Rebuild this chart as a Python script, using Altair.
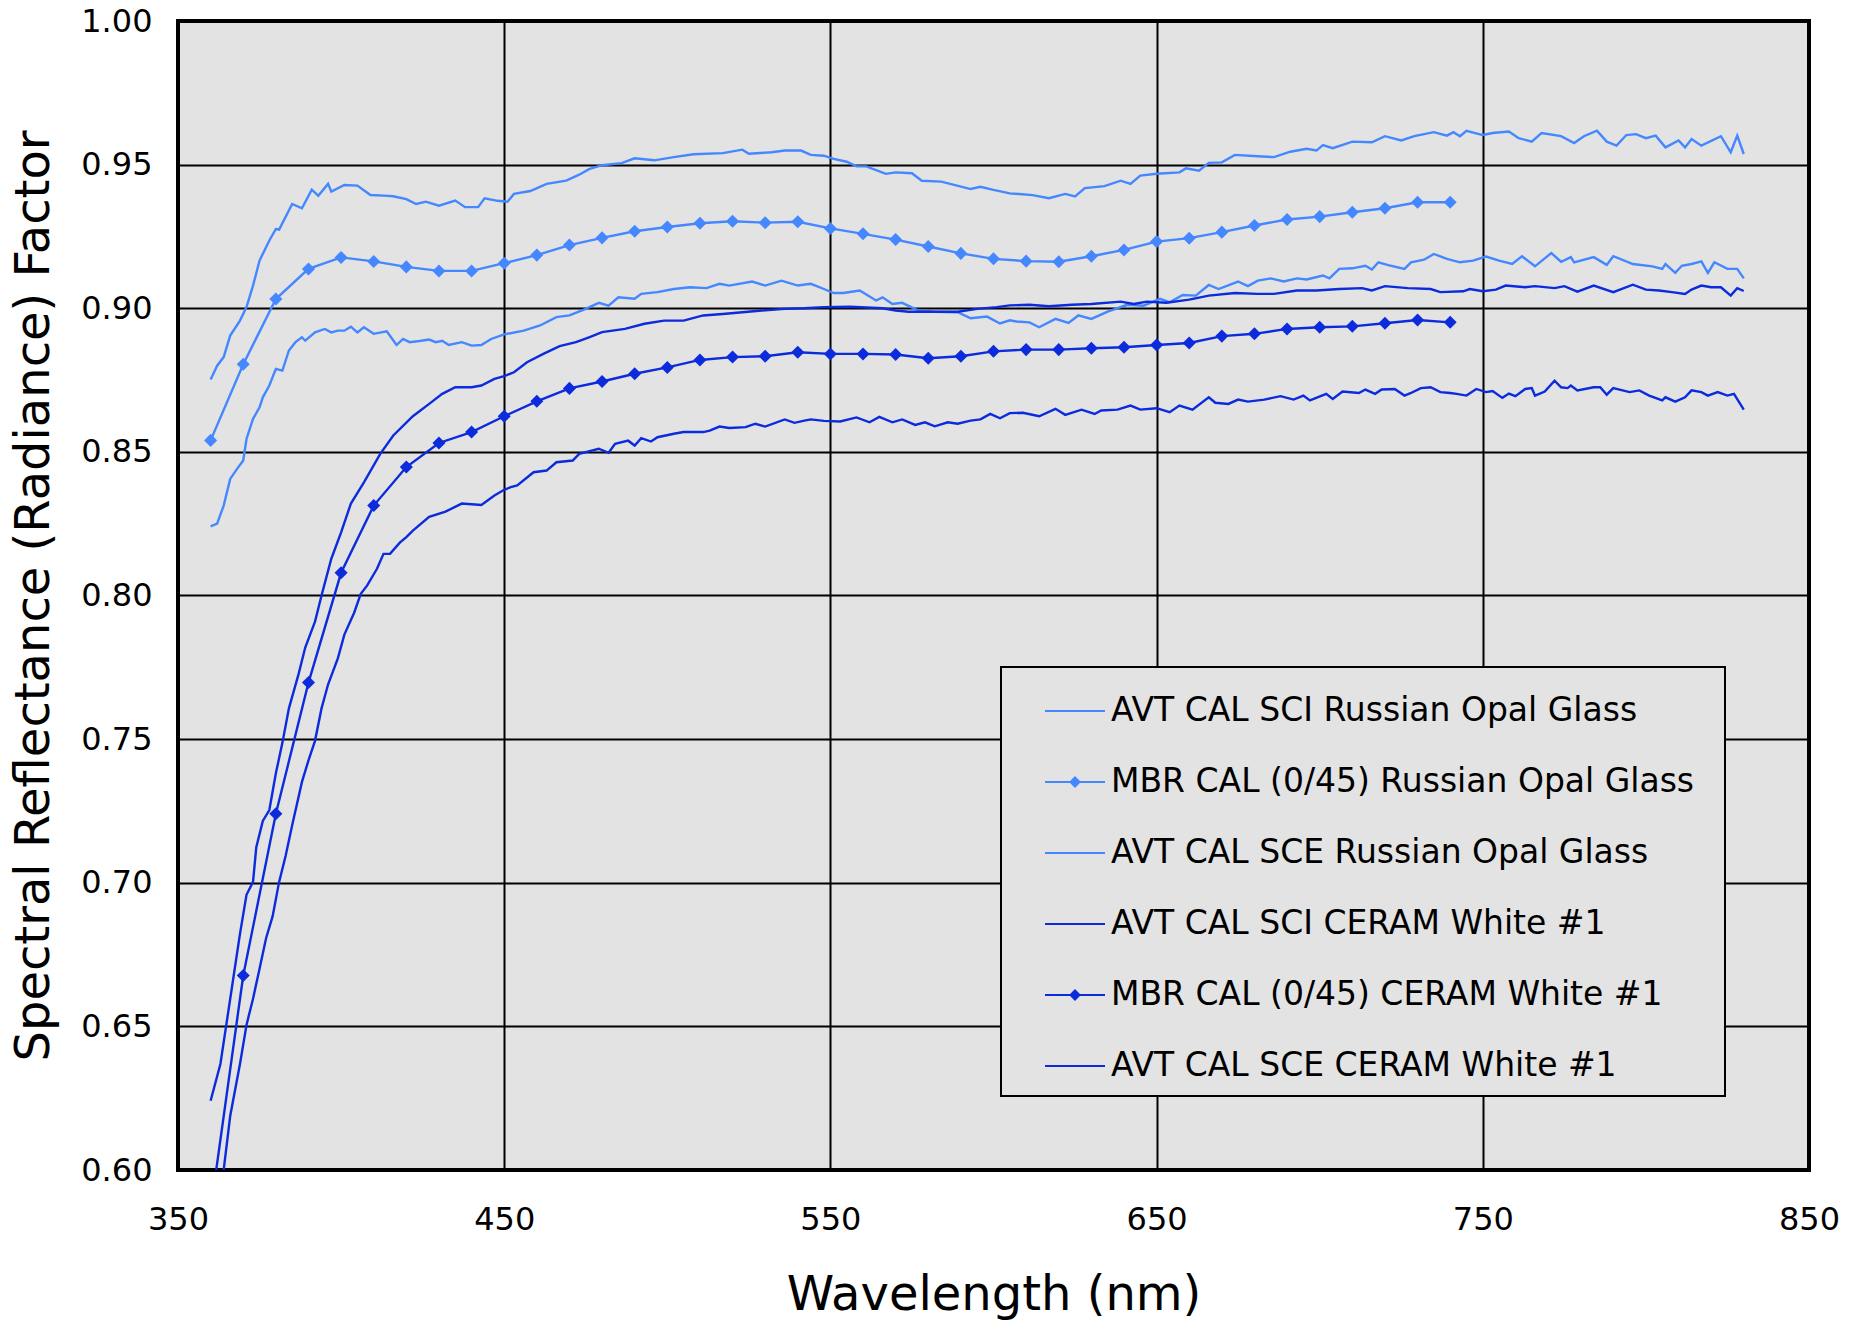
import altair as alt
import pandas as pd

# ---- series names (legend order) ----
SERIES = [
    "AVT CAL SCI Russian Opal Glass",
    "MBR CAL (0/45) Russian Opal Glass",
    "AVT CAL SCE Russian Opal Glass",
    "AVT CAL SCI CERAM White #1",
    "MBR CAL (0/45) CERAM White #1",
    "AVT CAL SCE CERAM White #1",
]
LIGHT = "#4487FF"
DARK = "#0B2BDD"
COLORS = [LIGHT, LIGHT, LIGHT, DARK, DARK, DARK]

# ---- AVT CAL SCI, Russian opal glass ----
opal_sci_wl = [360, 362, 364, 366, 369, 371, 373, 375, 378, 380, 381, 385, 388, 391, 393, 396, 397,
               401, 405, 409, 413, 416, 420, 423, 426, 430, 435, 438, 442, 444, 448, 451, 453, 458,
               463, 469, 473, 476, 480, 486, 490, 496, 502, 508, 517, 523, 525, 532, 536, 541, 544,
               548, 551, 555, 558, 561, 567, 570, 575, 578, 584, 593, 596, 600, 605, 612, 617, 622,
               625, 628, 634, 639, 642, 645, 650, 657, 659, 663, 666, 670, 674, 681, 686, 691, 696,
               699, 701, 704, 710, 716, 720, 725, 729, 735, 739, 741, 743, 745, 750, 753, 758, 761,
               765, 768, 774, 778, 781, 785, 788, 791, 794, 797, 800, 803, 806, 810, 812, 814, 817,
               823, 826, 828, 830]
opal_sci_r = [0.8752, 0.8800, 0.8830, 0.8905, 0.8957, 0.9004, 0.9079, 0.9166, 0.9236, 0.9276, 0.9274,
              0.9363, 0.9348, 0.9413, 0.9392, 0.9433, 0.9406, 0.9429, 0.9427, 0.9394, 0.9392, 0.9390,
              0.9380, 0.9363, 0.9371, 0.9357, 0.9375, 0.9352, 0.9352, 0.9383, 0.9374, 0.9371, 0.9398,
              0.9408, 0.9433, 0.9444, 0.9465, 0.9484, 0.9498, 0.9505, 0.9522, 0.9515, 0.9526, 0.9536,
              0.9540, 0.9552, 0.9538, 0.9543, 0.9549, 0.9549, 0.9534, 0.9531, 0.9520, 0.9510, 0.9494,
              0.9494, 0.9468, 0.9473, 0.9470, 0.9444, 0.9441, 0.9415, 0.9423, 0.9412, 0.9400, 0.9394,
              0.9383, 0.9398, 0.9389, 0.9418, 0.9425, 0.9444, 0.9433, 0.9462, 0.9468, 0.9473, 0.9487,
              0.9479, 0.9506, 0.9508, 0.9534, 0.9529, 0.9526, 0.9545, 0.9555, 0.9549, 0.9568, 0.9557,
              0.9580, 0.9578, 0.9599, 0.9584, 0.9599, 0.9613, 0.9601, 0.9613, 0.9599, 0.9618, 0.9603,
              0.9610, 0.9615, 0.9592, 0.9580, 0.9610, 0.9599, 0.9575, 0.9599, 0.9618, 0.9580, 0.9566,
              0.9603, 0.9606, 0.9592, 0.9601, 0.9560, 0.9584, 0.9560, 0.9589, 0.9566, 0.9599, 0.9543,
              0.9601, 0.9537]

# ---- AVT CAL SCE, Russian opal glass ----
opal_sce_wl = [360, 362, 364, 366, 368, 370, 371, 373, 375, 376, 378, 380, 382, 384, 386, 388, 389,
               392, 395, 397, 399, 401, 403, 405, 407, 410, 414, 417, 419, 421, 424, 427, 429, 431,
               433, 437, 440, 443, 446, 450, 456, 461, 466, 470, 475, 479, 482, 485, 490, 492, 497,
               502, 507, 512, 516, 519, 526, 530, 535, 540, 544, 548, 551, 554, 559, 564, 566, 569,
               572, 577, 582, 589, 593, 598, 602, 605, 607, 611, 614, 619, 623, 626, 630, 635, 641,
               646, 651, 654, 658, 662, 666, 669, 675, 678, 681, 685, 689, 693, 696, 701, 703, 706,
               710, 714, 716, 718, 721, 726, 728, 732, 735, 739, 743, 747, 751, 755, 759, 762, 766,
               771, 774, 777, 778, 784, 788, 790, 796, 802, 805, 806, 809, 811, 814, 817, 819, 821,
               825, 828, 830]
opal_sce_r = [0.8241, 0.8250, 0.8313, 0.8406, 0.8439, 0.8470, 0.8545, 0.8615, 0.8655, 0.8690, 0.8731,
              0.8789, 0.8783, 0.8853, 0.8882, 0.8899, 0.8887, 0.8916, 0.8928, 0.8916, 0.8922, 0.8922,
              0.8936, 0.8916, 0.8934, 0.8911, 0.8920, 0.8872, 0.8893, 0.8882, 0.8886, 0.8891, 0.8882,
              0.8887, 0.8872, 0.8882, 0.8870, 0.8872, 0.8893, 0.8909, 0.8922, 0.8940, 0.8969, 0.8975,
              0.8998, 0.9019, 0.9009, 0.9038, 0.9033, 0.9050, 0.9056, 0.9067, 0.9073, 0.9070, 0.9085,
              0.9079, 0.9093, 0.9079, 0.9096, 0.9079, 0.9085, 0.9067, 0.9053, 0.9053, 0.9062, 0.9027,
              0.9038, 0.9015, 0.9019, 0.8992, 0.8988, 0.8986, 0.8965, 0.8971, 0.8947, 0.8958, 0.8954,
              0.8951, 0.8934, 0.8963, 0.8949, 0.8975, 0.8963, 0.8988, 0.9012, 0.9009, 0.9033, 0.9021,
              0.9046, 0.9044, 0.9081, 0.9067, 0.9093, 0.9077, 0.9096, 0.9104, 0.9093, 0.9104, 0.9100,
              0.9114, 0.9104, 0.9137, 0.9139, 0.9148, 0.9135, 0.9160, 0.9150, 0.9137, 0.9160, 0.9169,
              0.9189, 0.9172, 0.9160, 0.9166, 0.9180, 0.9166, 0.9154, 0.9181, 0.9146, 0.9192, 0.9162,
              0.9178, 0.9160, 0.9178, 0.9151, 0.9181, 0.9154, 0.9146, 0.9137, 0.9154, 0.9123, 0.9148,
              0.9154, 0.9163, 0.9123, 0.9160, 0.9137, 0.9137, 0.9104]

# ---- AVT CAL SCI, CERAM white #1 ----
ceram_sci_wl = [360, 363, 365, 367, 369, 371, 373, 374, 376, 378, 380, 382, 384, 387, 389, 392, 394,
                397, 400, 403, 407, 412, 416, 422, 427, 431, 435, 440, 443, 447, 450, 453, 457, 462,
                467, 472, 476, 480, 487, 493, 499, 505, 511, 517, 523, 529, 536, 542, 548, 556, 566,
                570, 574, 580, 589, 595, 601, 605, 611, 617, 624, 630, 639, 643, 647, 653, 660, 666,
                674, 681, 686, 693, 699, 706, 713, 716, 720, 727, 734, 737, 744, 746, 750, 754, 757,
                763, 766, 772, 775, 779, 784, 790, 796, 800, 804, 808, 812, 814, 817, 820, 823, 826,
                828, 830]
ceram_sci_r = [0.6241, 0.6369, 0.6520, 0.6671, 0.6822, 0.6958, 0.7003, 0.7124, 0.7215, 0.7253, 0.7381,
               0.7487, 0.7607, 0.7728, 0.7819, 0.7909, 0.8000, 0.8128, 0.8220, 0.8320, 0.8394, 0.8493,
               0.8557, 0.8624, 0.8667, 0.8702, 0.8725, 0.8725, 0.8731, 0.8754, 0.8764, 0.8777, 0.8812,
               0.8841, 0.8868, 0.8882, 0.8899, 0.8917, 0.8928, 0.8946, 0.8957, 0.8957, 0.8975, 0.8980,
               0.8986, 0.8992, 0.8998, 0.9000, 0.9004, 0.9005, 0.9000, 0.8992, 0.8988, 0.8988, 0.8988,
               0.8998, 0.9004, 0.9010, 0.9012, 0.9007, 0.9012, 0.9015, 0.9023, 0.9015, 0.9023, 0.9019,
               0.9030, 0.9044, 0.9053, 0.9050, 0.9050, 0.9062, 0.9062, 0.9067, 0.9070, 0.9062, 0.9077,
               0.9070, 0.9067, 0.9056, 0.9059, 0.9067, 0.9059, 0.9065, 0.9079, 0.9073, 0.9077, 0.9070,
               0.9077, 0.9058, 0.9079, 0.9056, 0.9082, 0.9065, 0.9062, 0.9056, 0.9050, 0.9065, 0.9079,
               0.9073, 0.9073, 0.9044, 0.9070, 0.9060]

# ---- AVT CAL SCE, CERAM white #1 ----
ceram_sce_wl = [360, 364, 366, 369, 371, 373, 375, 377, 379, 381, 383, 385, 388, 390, 392, 394, 396,
                399, 401, 404, 406, 408, 411, 413, 415, 418, 420, 422, 427, 432, 437, 443, 447, 450,
                452, 454, 459, 463, 466, 471, 473, 479, 482, 484, 488, 490, 492, 495, 497, 502, 505,
                511, 513, 516, 519, 524, 527, 530, 536, 539, 542, 544, 548, 553, 558, 562, 565, 569,
                572, 576, 579, 582, 586, 589, 593, 596, 599, 602, 605, 609, 614, 619, 622, 627, 631,
                633, 638, 642, 645, 650, 654, 657, 661, 666, 668, 672, 675, 678, 683, 688, 692, 695,
                697, 702, 704, 707, 712, 714, 717, 719, 723, 726, 728, 731, 734, 737, 740, 742, 745,
                748, 751, 753, 756, 758, 760, 763, 765, 766, 769, 772, 774, 776, 777, 779, 784, 786,
                788, 790, 795, 798, 801, 805, 806, 809, 812, 814, 817, 819, 822, 825, 827, 830]
ceram_sce_r = [0.5700, 0.6000, 0.6188, 0.6369, 0.6505, 0.6596, 0.6701, 0.6807, 0.6883, 0.7003, 0.7094,
               0.7200, 0.7351, 0.7426, 0.7494, 0.7607, 0.7690, 0.7781, 0.7864, 0.7940, 0.8005, 0.8035,
               0.8093, 0.8145, 0.8145, 0.8184, 0.8203, 0.8226, 0.8274, 0.8292, 0.8320, 0.8315, 0.8348,
               0.8368, 0.8377, 0.8383, 0.8429, 0.8435, 0.8464, 0.8470, 0.8493, 0.8511, 0.8497, 0.8528,
               0.8539, 0.8522, 0.8548, 0.8536, 0.8551, 0.8563, 0.8569, 0.8569, 0.8574, 0.8588, 0.8583,
               0.8586, 0.8598, 0.8588, 0.8613, 0.8601, 0.8609, 0.8613, 0.8608, 0.8606, 0.8620, 0.8603,
               0.8622, 0.8603, 0.8613, 0.8594, 0.8603, 0.8589, 0.8603, 0.8598, 0.8609, 0.8613, 0.8632,
               0.8617, 0.8635, 0.8636, 0.8624, 0.8650, 0.8629, 0.8647, 0.8632, 0.8644, 0.8647, 0.8661,
               0.8647, 0.8652, 0.8638, 0.8661, 0.8647, 0.8690, 0.8671, 0.8667, 0.8682, 0.8675, 0.8682,
               0.8694, 0.8682, 0.8696, 0.8679, 0.8702, 0.8684, 0.8710, 0.8705, 0.8717, 0.8702, 0.8717,
               0.8719, 0.8696, 0.8705, 0.8722, 0.8725, 0.8708, 0.8705, 0.8702, 0.8696, 0.8719, 0.8708,
               0.8712, 0.8688, 0.8703, 0.8694, 0.8719, 0.8722, 0.8696, 0.8710, 0.8748, 0.8725, 0.8722,
               0.8731, 0.8714, 0.8725, 0.8725, 0.8699, 0.8722, 0.8708, 0.8714, 0.8696, 0.8679, 0.8690,
               0.8675, 0.8690, 0.8714, 0.8708, 0.8696, 0.8708, 0.8696, 0.8702, 0.8647]

# ---- MBR CAL (0/45), measured every 10 nm ----
mbr_wl = [360, 370, 380, 390, 400, 410, 420, 430, 440, 450, 460, 470, 480, 490, 500, 510, 520, 530,
          540, 550, 560, 570, 580, 590, 600, 610, 620, 630, 640, 650, 660, 670, 680, 690, 700, 710,
          720, 730, 740]
mbr_opal_r = [0.8540, 0.8805, 0.9032, 0.9137, 0.9177, 0.9163, 0.9144, 0.9130, 0.9130, 0.9157, 0.9185,
              0.9220, 0.9245, 0.9268, 0.9283, 0.9296, 0.9303, 0.9298, 0.9301, 0.9278, 0.9259, 0.9239,
              0.9215, 0.9191, 0.9172, 0.9164, 0.9162, 0.9181, 0.9203, 0.9232, 0.9244, 0.9265, 0.9288,
              0.9309, 0.9319, 0.9334, 0.9348, 0.9369, 0.9369]
mbr_ceram_r = [0.5860, 0.6677, 0.7240, 0.7697, 0.8079, 0.8313, 0.8447, 0.8531, 0.8569, 0.8624, 0.8676,
               0.8721, 0.8745, 0.8772, 0.8794, 0.8820, 0.8830, 0.8833, 0.8847, 0.8841, 0.8841, 0.8839,
               0.8826, 0.8833, 0.8850, 0.8856, 0.8856, 0.8861, 0.8864, 0.8872, 0.8879, 0.8903, 0.8911,
               0.8928, 0.8934, 0.8937, 0.8948, 0.8959, 0.8951]

# legend glyphs: a plain stroke for the AVT scans, a stroke with a diamond for the MBR readings
LINE_GLYPH = "M-1,0H1"
MARKED_GLYPH = "M-1,0H1M0,-0.15L0.15,0L0,0.15L-0.15,0Z"
GLYPHS = [LINE_GLYPH, MARKED_GLYPH, LINE_GLYPH, LINE_GLYPH, MARKED_GLYPH, LINE_GLYPH]

X_TICKS = [350, 450, 550, 650, 750, 850]
Y_TICKS = [0.60, 0.65, 0.70, 0.75, 0.80, 0.85, 0.90, 0.95, 1.00]

FONT = "DejaVu Sans"


def frame(name, wl, r):
    return pd.DataFrame({"series": name, "wavelength": wl, "reflectance": r})


curves = pd.concat([
    frame(SERIES[0], opal_sci_wl, opal_sci_r),
    frame(SERIES[1], mbr_wl, mbr_opal_r),
    frame(SERIES[2], opal_sce_wl, opal_sce_r),
    frame(SERIES[3], ceram_sci_wl, ceram_sci_r),
    frame(SERIES[4], mbr_wl, mbr_ceram_r),
    frame(SERIES[5], ceram_sce_wl, ceram_sce_r),
], ignore_index=True)

mbr = pd.concat([
    frame(SERIES[1], mbr_wl, mbr_opal_r),
    frame(SERIES[4], mbr_wl, mbr_ceram_r),
], ignore_index=True)

x_enc = alt.X(
    "wavelength:Q",
    scale=alt.Scale(domain=[350, 850], nice=False, zero=False),
    axis=alt.Axis(values=X_TICKS, title="Wavelength (nm)", labelPadding=34, titlePadding=36,
                  labelFlush=False, labelOverlap=False),
)
y_enc = alt.Y(
    "reflectance:Q",
    scale=alt.Scale(domain=[0.60, 1.00], nice=False, zero=False),
    axis=alt.Axis(values=Y_TICKS, format=".2f", title="Spectral Reflectance (Radiance) Factor",
                  labelPadding=26, titlePadding=22, labelFlush=False, labelOverlap=False),
)

# the curve colours are keyed bottom-up so this unlisted scale stays apart from the key's scales
curve_colors = alt.Scale(domain=SERIES[::-1], range=COLORS[::-1])

lines = alt.Chart(curves).mark_line(strokeWidth=2.4, clip=True).encode(
    x=x_enc,
    y=y_enc,
    color=alt.Color("series:N", scale=curve_colors, legend=None),
    detail="series:N",
)

markers = alt.Chart(mbr).mark_point(shape="diamond", filled=True, size=170, opacity=1, clip=True).encode(
    x=x_enc,
    y=y_enc,
    color=alt.Color("series:N", scale=curve_colors, legend=None),
)

key = alt.Legend(
    # a blank, right-hand title only widens the frame past the longest entry
    title="\u00a0",
    titleOrient="right",
    titlePadding=18,
    titleFontSize=4,
    orient="none",
    legendX=823,
    legendY=646,
    fillColor="#E3E3E3",
    strokeColor="black",
    padding=13,
    symbolSize=3600,
    symbolStrokeWidth=2,
    symbolOffset=30,
    labelOffset=5,
    rowPadding=23,
    labelFont=FONT,
    labelFontSize=33,
    labelColor="black",
    labelLimit=1200,
)

# key entries: one hidden glyph per series, parked outside the clipped plot area
legend_layer = alt.Chart(pd.DataFrame({"series": SERIES})).mark_point(
    filled=True, opacity=1, size=3600, strokeWidth=2, clip=True
).encode(
    x=alt.value(-400),
    y=alt.value(-400),
    fill=alt.Fill("series:N", scale=alt.Scale(domain=SERIES, range=COLORS), legend=key),
    stroke=alt.Stroke("series:N", scale=alt.Scale(domain=SERIES, range=COLORS), legend=key),
    shape=alt.Shape("series:N", scale=alt.Scale(domain=SERIES, range=GLYPHS), legend=key),
)

chart = (
    alt.layer(lines, markers, legend_layer)
    .properties(
        width=1631,
        height=1149,
        autosize="none",
        padding={"left": 178, "top": 21, "right": 53, "bottom": 150},
        background="white",
    )
    .configure_view(fill="#E3E3E3", stroke="black", strokeWidth=4)
    .configure_legend(strokeWidth=2)
    .configure_axis(
        labelFont=FONT,
        labelFontSize=32,
        labelColor="black",
        titleFont=FONT,
        titleFontSize=48,
        titleFontWeight="normal",
        titleColor="black",
        domain=False,
        ticks=False,
        grid=True,
        gridColor="black",
        gridWidth=2,
        gridOpacity=1,
    )
)

chart.save("out.html", embed_options={"renderer": "svg", "actions": False})
